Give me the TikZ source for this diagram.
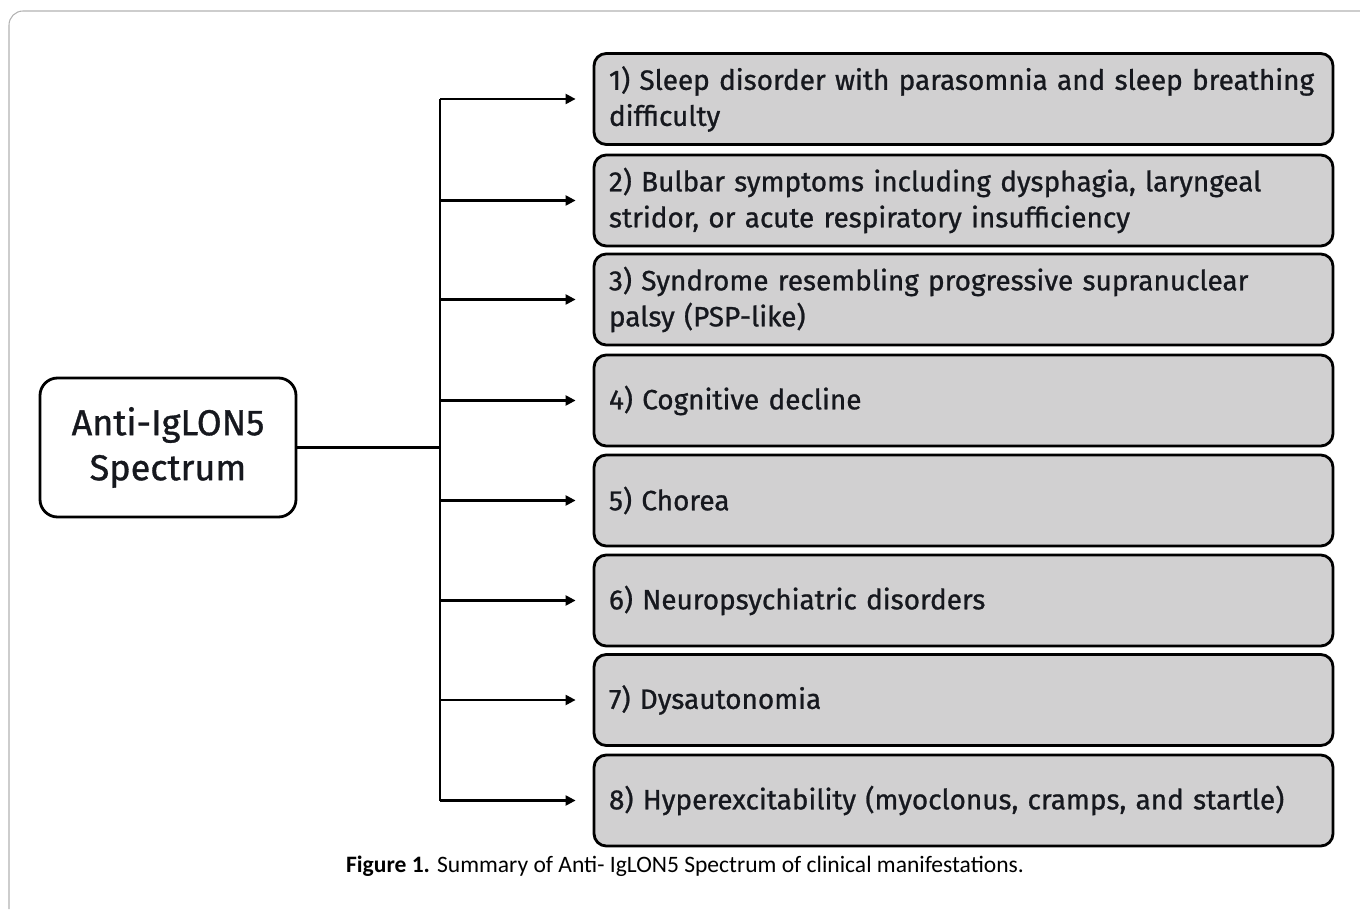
\documentclass[tikz,border=0pt]{standalone}
\usepackage{fontspec}
\setmainfont{Fira Sans}
\newfontfamily\boxfont{Fira Sans}[FakeBold=0.9]
\newfontfamily\capfont{Carlito}
\usetikzlibrary{arrows.meta,positioning,calc}
\definecolor{figInk}{RGB}{22,24,30}
\definecolor{figBox}{RGB}{209,208,209}
\definecolor{figFrame}{RGB}{178,178,178}
\tikzset{
  sbox/.style={rounded corners=7pt, line width=1.6pt, draw=black,
    text=figInk, align=left, inner xsep=0.3cm, inner ysep=0pt},
  sflow/.style={-{Triangle[length=2mm, width=2mm]}, line width=1.25pt,
    draw=black}
}
\begin{document}
\begin{tikzpicture}[
  root/.style={sbox, fill=white, rounded corners=10pt, minimum width=5.12cm,
    minimum height=2.78cm, align=center, inner xsep=0pt,
    font=\boxfont\fontsize{20.5}{25.6}\selectfont},
  item/.style={sbox, fill=figBox, minimum width=14.78cm, minimum height=1.82cm,
    text width=14.18cm, font=\boxfont\fontsize{15.9}{20.5}\selectfont},
  link/.style={line width=1.25pt, draw=black},
  flow/.style={sflow, shorten >=0.34cm}
]
\path[use as bounding box] (0,0) rectangle (27.2,18.18);

% outer frame
\draw[figFrame, line width=.6pt, rounded corners=8pt]
  (0.18,0) -- (0.18,17.96) -- (27.2,17.96);

\node[root] (spec) at (3.36,9.23) {Anti-IgLON5\\Spectrum};
\coordinate (hub) at (8.80,9.23);

\node[item] (s1) at (19.27,16.20)
  {1) Sleep disorder with parasomnia and sleep breathing\\difficulty};
\node[item] (s2) at (19.27,14.17)
  {2) Bulbar symptoms including dysphagia, laryngeal\\stridor, or acute respiratory insufficiency};
\node[item] (s3) at (19.27,12.19)
  {3) Syndrome resembling progressive supranuclear\\palsy (PSP-like)};
\node[item] (s4) at (19.27,10.17) {4) Cognitive decline};
\node[item] (s5) at (19.27,8.17) {5) Chorea};
\node[item] (s6) at (19.27,6.17) {6) Neuropsychiatric disorders};
\node[item] (s7) at (19.27,4.18) {7) Dysautonomia};
\node[item] (s8) at (19.27,2.17)
  {8) Hyperexcitability (myoclonus, cramps, and startle)};

\node[font=\capfont\fontsize{13.4}{15}\selectfont, text=black] (cap) at (13.70,0.86)
  {\textbf{Figure 1.} Summary of Anti- IgLON5 Spectrum of clinical manifestations.};

\draw[link] (spec.east) -- (hub);
\draw[link] (hub |- s1.west) -- (hub |- s8.west);
\draw[flow] (hub |- s1.west) -- (s1.west);
\draw[flow] (hub |- s2.west) -- (s2.west);
\draw[flow] (hub |- s3.west) -- (s3.west);
\draw[flow] (hub |- s4.west) -- (s4.west);
\draw[flow] (hub |- s5.west) -- (s5.west);
\draw[flow] (hub |- s6.west) -- (s6.west);
\draw[flow] (hub |- s7.west) -- (s7.west);
\draw[flow] (hub |- s8.west) -- (s8.west);
\end{tikzpicture}
\end{document}
